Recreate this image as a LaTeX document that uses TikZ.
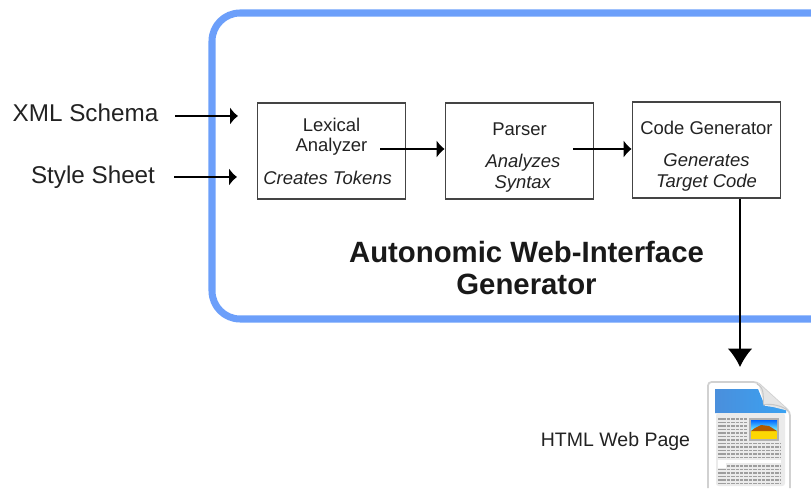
\documentclass[tikz,border=0pt]{standalone}
\usepackage{fontspec}
\setmainfont{Liberation Sans}
\usetikzlibrary{arrows.meta}
\definecolor{framecol}{HTML}{6C9FFA}
\definecolor{boxcol}{HTML}{444444}
\definecolor{textcol}{HTML}{222222}
\definecolor{bandleft}{HTML}{4A8FDC}
\definecolor{bandright}{HTML}{3AA2F2}
\tikzset{
  block/.style={draw=boxcol,line width=.8pt,minimum width=84.5pt,minimum height=54.5pt,inner sep=0pt,align=center,text=textcol,font=\fontsize{10.5}{11.9}\selectfont},
  inlabel/.style={font=\fontsize{13.8}{16}\selectfont,text=textcol},
  flow/.style={line width=.8pt,-{Latex[length=4.5pt,width=10pt]}},
  icontext/.style={black!38,line width=1pt,dash pattern=on 2pt off .5pt}
}
\newcommand{\lowertext}[1]{\rule{0pt}{#1}}
\begin{document}
\begin{tikzpicture}[x=.02cm,y=-.02cm]
\useasboundingbox (0,0) rectangle (811,489);
%frame
\draw [framecol,line width=4pt,rounded corners=16pt] (212,13) rectangle (860,319);
%boxes
\node [block] (lexer) at (331.5,151) {Lexical\\Analyzer\\[6.4pt]\textit{Creates Tokens}\hspace*{4.5pt}};
\node [block] (parser) at (519.5,151) {\lowertext{15pt}Parser\\[6.4pt]\hspace*{4pt}\textit{Analyzes}\\\hspace*{4pt}\textit{Syntax}};
\node [block] (codegen) at (706.5,150) {\lowertext{14.5pt}Code Generator\\[6.4pt]\textit{Generates}\\\textit{Target Code}};
%inputs
\node [inlabel] (xml) at (85.5,112.5) {XML Schema};
\node [inlabel] (style) at (93,177.5) {Style Sheet};
\coordinate (xmlout) at (175,116);
\coordinate (xmlin) at (238,116);
\coordinate (styleout) at (174,177);
\coordinate (stylein) at (237,177);
\draw [flow] (xmlout) -- (xmlin);
\draw [flow] (styleout) -- (stylein);
%between boxes
\coordinate (lexout) at (380,149);
\coordinate (parseout) at (573,149);
\draw [flow] (lexout) -- (lexout -| parser.west);
\draw [flow] (parseout) -- (parseout -| codegen.west);
%title
\node [font=\fontsize{16.7}{18.7}\bfseries\selectfont,align=center,text=black!90] (title) at (526.5,268) {Autonomic Web-Interface\\Generator};
%output
\node [font=\fontsize{11.1}{13}\selectfont,text=textcol] (page) at (615.5,441) {HTML Web Page};
\coordinate (pagein) at (740,367);
\draw [line width=.8pt,-{Latex[length=10.5pt,width=14pt]}] (pagein |- codegen.south) -- (pagein);
%page icon
\draw [black!18,line width=1pt,fill=white,rounded corners=2pt] (708,488) -- (708,382) -- (757,382) -- (790,412) -- (790,488);
\shade [left color=bandleft,right color=bandright] (715,389) -- (758,389) -- (765,406) -- (786,408) -- (786,413) -- (715,413) -- cycle;
\fill [black!8,rounded corners=1.5pt] (716,413) rectangle (785,486);
\fill [black!10] (758,383) -- (765,405) -- (789,411) -- cycle;
\draw [black!22,line width=.6pt] (757,384) .. controls (766,388) and (762,400) .. (764,405) .. controls (770,403) and (784,406) .. (788,411);
\foreach \yy in {419,422.5,...,440}
  \draw [icontext] (718,\yy) -- (747,\yy);
\foreach \yy in {443.5,447,...,458}
  \draw [icontext] (718,\yy) -- (780,\yy);
\foreach \yy in {466,469.5,...,484}
  \draw [icontext] (718,\yy) -- (780,\yy);
\fill [white] (718,460) rectangle (781,463);
\fill [white] (718,463) rectangle (726,468);
%picture inside icon
\fill [black!30] (749,418) rectangle (779,441);
\shade [top color=blue!60!cyan,bottom color=cyan!50!white] (751,420) rectangle (777,431);
\fill [yellow!75!orange] (751,431) rectangle (777,439);
\fill [orange!70!black] (751,431) -- (755,428) -- (761,425) -- (769,426) -- (777,431) -- cycle;
\end{tikzpicture}
\end{document}
